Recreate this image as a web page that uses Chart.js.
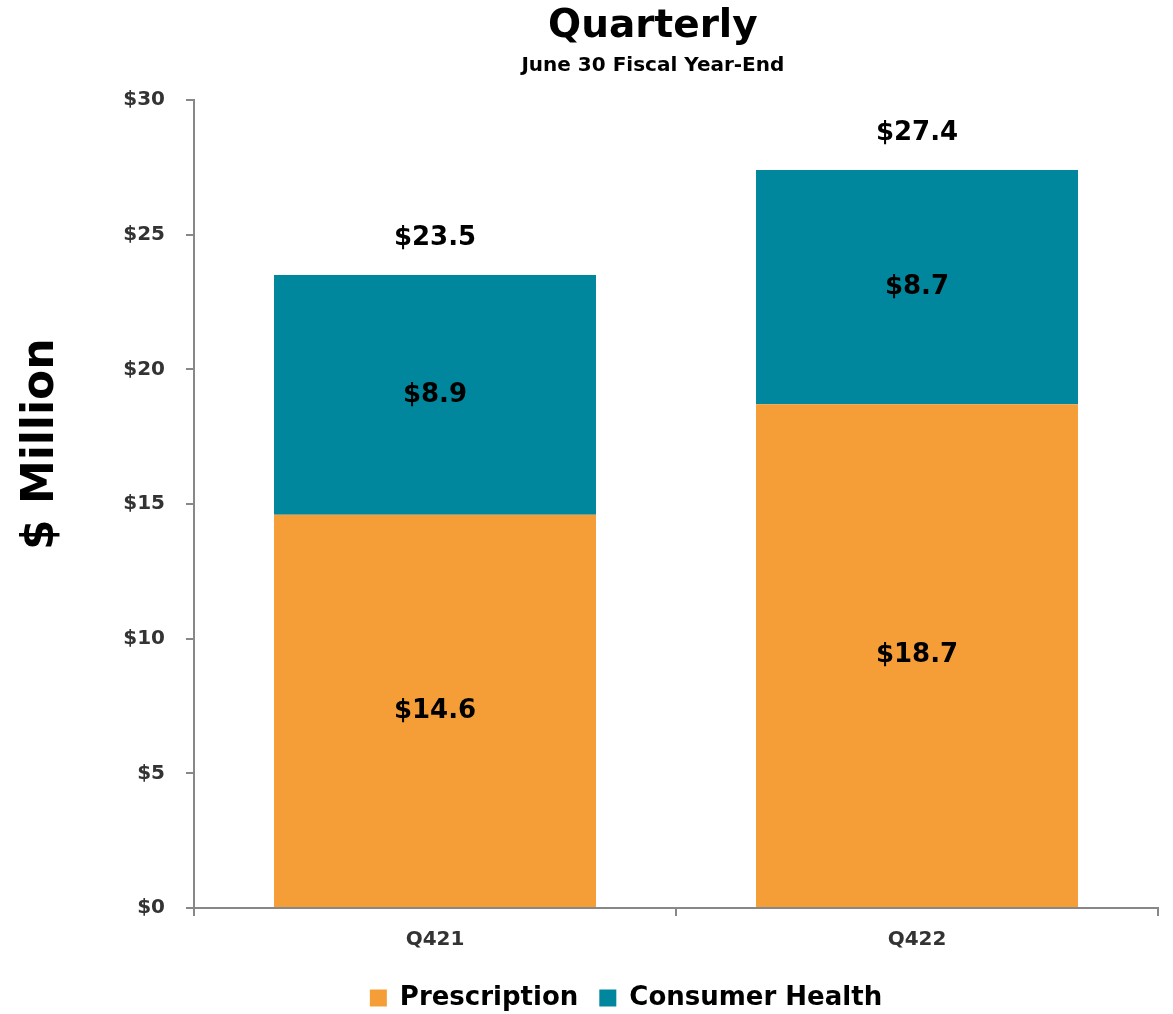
<!DOCTYPE html>
<html>
<head>
<meta charset="utf-8">
<script src="https://cdn.jsdelivr.net/npm/chart.js@4"></script>
<style>
  html, body { margin: 0; padding: 0; background: #fff; }
  #wrap { width: 1173px; height: 1014px; }
</style>
</head>
<body>
<div id="wrap"><canvas id="chart"></canvas></div>
<script>
const categories = ["Q421", "Q422"];
const prescription = [14.6, 18.7];
const consumerHealth = [8.9, 8.7];
const totals = [23.5, 27.4];
const chartTitle = "Quarterly";
const chartSubtitle = "June 30 Fiscal Year-End";
const yTitle = "$ Million";

const FONT = "'DejaVu Sans', sans-serif";

// value labels, totals above the stacks, titles and the y title
const valueLabels = {
    id: "valueLabels",
    afterDatasetsDraw(chart) {
        const ctx = chart.ctx;
        const area = chart.chartArea;
        ctx.save();
        ctx.fillStyle = "#000";
        ctx.textAlign = "center";
        ctx.textBaseline = "middle";
        ctx.font = "bold 26px " + FONT;
        chart.data.datasets.forEach((ds, i) => {
            chart.getDatasetMeta(i).data.forEach((bar, j) => {
                const mid = (bar.y + bar.base) / 2;
                ctx.fillText("$" + ds.data[j].toFixed(1), bar.x, mid);
            });
        });
        chart.getDatasetMeta(1).data.forEach((bar, j) => {
            ctx.fillText("$" + totals[j].toFixed(1), bar.x, bar.y - 37);
        });

        // title block is centred a little left of the plot centre
        const cx = area.left + (area.right - area.left) * 0.476;
        ctx.font = "bold 39px " + FONT;
        ctx.fillText(chartTitle, cx, 27);
        ctx.font = "bold 20px " + FONT;
        ctx.fillText(chartSubtitle, cx, 66);

        // y axis title sits a bit above the middle of the plot
        ctx.font = "bold 44px " + FONT;
        ctx.translate(42, area.top + (area.bottom - area.top) * 0.426);
        ctx.rotate(-Math.PI / 2);
        ctx.fillText(yTitle, 0, 0);
        ctx.restore();
    }
};

new Chart(document.getElementById("chart"), {
    type: "bar",
    data: {
        labels: categories,
        datasets: [
            { label: "Prescription", data: prescription, backgroundColor: "#F59E38", barPercentage: 0.668, categoryPercentage: 1 },
            { label: "Consumer Health", data: consumerHealth, backgroundColor: "#00879E", barPercentage: 0.668, categoryPercentage: 1 }
        ]
    },
    options: {
        responsive: true,
        maintainAspectRatio: false,
        animation: false,
        layout: { padding: { top: 100, right: 15, bottom: -7, left: 94 } },
        plugins: {
            legend: {
                position: "bottom",
                labels: {
                    color: "#000",
                    font: { family: FONT, size: 26, weight: "bold" },
                    boxWidth: 17,
                    boxHeight: 17,
                    padding: 21
                }
            },
            tooltip: { enabled: false }
        },
        scales: {
            x: {
                stacked: true,
                border: { color: "#888", width: 2 },
                grid: { display: true, drawOnChartArea: false, drawTicks: true, tickLength: 8, color: "#888", lineWidth: 2, offset: true },
                ticks: { color: "#333", font: { family: FONT, size: 20, weight: "bold" }, padding: 12 }
            },
            y: {
                stacked: true,
                min: 0,
                max: 30,
                border: { color: "#888", width: 2 },
                grid: { drawOnChartArea: false, drawTicks: true, tickLength: 8, color: "#888", lineWidth: 2 },
                ticks: {
                    stepSize: 5,
                    color: "#333",
                    font: { family: FONT, size: 20, weight: "bold" },
                    padding: 21,
                    callback: v => "$" + v
                },
                // axis line at x=194; tick labels are placed from the right edge
                afterFit(scale) { scale.width = 100; }
            }
        }
    },
    plugins: [valueLabels]
});
</script>
</body>
</html>
